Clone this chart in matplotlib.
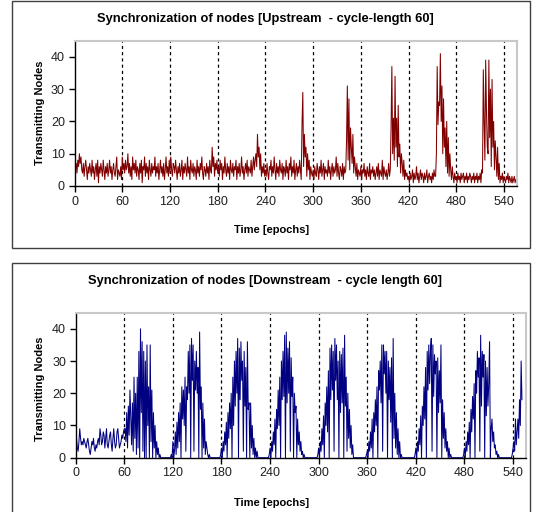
import matplotlib
matplotlib.use('Agg')
import matplotlib.pyplot as plt
from matplotlib.patches import Rectangle

# upstream: transmitting nodes per epoch (t = 0 .. 555)
upstream = [
    6, 5, 7, 4, 8, 6, 10, 7, 9, 5, 4, 7, 3, 6, 8, 5, 2, 6, 4, 7,
    5, 3, 8, 4, 6, 2, 5, 7, 3, 8, 1, 6, 4, 7, 5, 3, 8, 5, 2, 6,
    4, 7, 3, 5, 8, 4, 6, 2, 5, 7, 4, 3, 6, 9, 2, 5, 4, 3, 6, 2,
    9, 5, 7, 4, 8, 5, 6, 10, 4, 7, 3, 6, 2, 9, 5, 7, 4, 8, 3, 6,
    5, 2, 7, 4, 8, 1, 6, 5, 9, 3, 7, 4, 6, 2, 8, 5, 3, 7, 4, 6,
    5, 9, 3, 6, 4, 7, 2, 5, 8, 4, 6, 3, 7, 2, 5, 9, 4, 6, 3, 8,
    4, 9, 5, 3, 7, 6, 4, 8, 5, 2, 6, 4, 7, 3, 5, 8, 2, 6, 4, 7,
    5, 3, 9, 4, 6, 2, 8, 5, 4, 7, 3, 6, 5, 2, 8, 4, 6, 3, 7, 5,
    9, 4, 2, 6, 5, 3, 7, 4, 6, 2, 8, 5, 4, 12, 6, 9, 3, 7, 5, 8,
    4, 6, 3, 8, 5, 7, 2, 6, 4, 9, 5, 3, 7, 4, 6, 2, 8, 5, 4, 7,
    3, 6, 5, 8, 2, 6, 4, 7, 3, 5, 9, 4, 6, 2, 5, 7, 4, 8, 3, 6,
    5, 4, 8, 3, 6, 9, 5, 8, 10, 6, 16, 9, 12, 5, 10, 3, 6, 4, 7, 3,
    5, 3, 7, 4, 2, 6, 5, 8, 3, 6, 4, 9, 5, 2, 7, 4, 6, 3, 8, 5,
    4, 7, 2, 6, 5, 3, 8, 4, 6, 2, 7, 5, 9, 3, 6, 4, 8, 2, 5, 7,
    3, 6, 4, 8, 5, 2, 19, 29, 6, 16, 9, 12, 3, 10, 5, 8, 2, 6, 4, 3,
    5, 2, 6, 4, 3, 7, 5, 2, 6, 4, 8, 3, 5, 7, 2, 6, 4, 5, 3, 8,
    4, 6, 2, 5, 7, 3, 6, 4, 5, 9, 3, 7, 4, 2, 6, 5, 3, 7, 2, 6,
    4, 5, 14, 31, 8, 27, 5, 18, 12, 7, 16, 4, 9, 6, 3, 7, 2, 5, 4, 3,
    6, 2, 5, 4, 7, 3, 5, 2, 6, 4, 3, 7, 2, 5, 4, 6, 3, 5, 2, 4,
    6, 3, 7, 2, 5, 4, 3, 8, 2, 6, 4, 3, 5, 2, 4, 7, 3, 5, 18, 37,
    10, 21, 8, 34, 12, 21, 6, 25, 9, 13, 4, 10, 7, 3, 8, 2, 5, 3, 4, 2,
    3, 1, 4, 2, 3, 5, 1, 4, 2, 3, 6, 2, 4, 1, 3, 5, 2, 4, 3, 1,
    4, 2, 3, 5, 1, 3, 4, 2, 3, 1, 4, 2, 5, 3, 3, 10, 37, 19, 26, 25,
    41, 20, 31, 10, 27, 12, 18, 6, 20, 4, 15, 3, 10, 5, 2, 6, 3, 1, 4, 2,
    3, 1, 4, 2, 3, 1, 4, 2, 3, 4, 1, 3, 2, 4, 1, 3, 2, 4, 3, 1,
    3, 2, 4, 1, 3, 2, 4, 1, 3, 2, 4, 1, 5, 4, 36, 20, 8, 39, 23, 12,
    10, 39, 15, 30, 6, 33, 12, 20, 5, 14, 9, 3, 12, 2, 7, 1, 3, 2, 4, 1,
    3, 2, 1, 3, 2, 4, 1, 3, 2, 1, 3, 1, 2, 3, 1, 2,
]

# downstream: transmitting nodes per epoch (t = 0 .. 551)
downstream = [
    # 0-59
    9, 6, 3, 2, 5, 9, 6, 4, 5, 4, 6, 5, 4, 3, 5, 6, 4, 2, 1, 3,
    5, 4, 6, 3, 2, 4, 3, 5, 6, 4, 9, 7, 4, 5, 8, 7, 3, 6, 9, 4,
    3, 5, 7, 8, 4, 2, 6, 9, 5, 3, 4, 8, 9, 6, 3, 4, 5, 7, 6, 8,
    # 60-117
    9, 9, 5, 14, 3, 16, 7, 21, 12, 4, 17, 2, 25, 6, 20, 1, 25, 3, 33, 0,
    40, 14, 36, 2, 33, 0, 30, 0, 35, 10, 22, 0, 35, 5, 21, 0, 14, 3, 10, 0,
    5, 1, 3, 0, 1, 0, 0, 0, 0, 0, 0, 0, 0, 0, 0, 0, 0, 0,
    # 118-177
    1, 0, 5, 0, 2, 8, 1, 11, 3, 14, 5, 17, 0, 22, 12, 21, 10, 25, 2, 22,
    18, 33, 20, 35, 0, 37, 24, 35, 2, 30, 21, 33, 20, 28, 0, 39, 15, 22, 0, 17,
    3, 12, 1, 5, 3, 1, 0, 1, 0, 0, 0, 0, 0, 0, 0, 0, 0, 0, 0, 0,
    # 178-237
    0, 1, 3, 0, 5, 2, 8, 4, 11, 0, 14, 6, 17, 9, 20, 0, 25, 10, 30, 16,
    33, 20, 37, 0, 34, 18, 36, 24, 30, 2, 33, 16, 28, 0, 36, 15, 17, 0, 17, 3,
    10, 1, 6, 0, 3, 0, 2, 0, 0, 0, 0, 0, 0, 0, 0, 0, 0, 0, 0, 0,
    # 238-297
    0, 1, 3, 0, 5, 2, 8, 4, 12, 0, 15, 9, 21, 10, 25, 0, 30, 18, 33, 19,
    38, 0, 39, 17, 34, 20, 36, 2, 31, 19, 25, 0, 20, 14, 16, 0, 12, 4, 8, 2,
    5, 1, 2, 0, 1, 0, 0, 0, 0, 0, 0, 0, 0, 0, 0, 0, 0, 0, 0, 0,
    # 298-357
    0, 1, 3, 0, 5, 2, 9, 4, 13, 0, 17, 10, 22, 8, 27, 0, 34, 18, 35, 21,
    33, 2, 37, 24, 35, 18, 30, 0, 33, 14, 32, 17, 34, 0, 38, 16, 25, 2, 20, 6,
    15, 3, 10, 1, 4, 0, 0, 0, 0, 0, 0, 0, 0, 0, 0, 0, 0, 0, 0, 0,
    # 358-417
    0, 1, 2, 0, 5, 2, 8, 3, 12, 0, 14, 8, 18, 10, 22, 0, 27, 21, 30, 17,
    35, 2, 35, 26, 33, 20, 33, 0, 30, 18, 28, 11, 31, 0, 37, 6, 20, 3, 14, 1,
    9, 0, 5, 0, 1, 0, 0, 0, 0, 0, 0, 0, 0, 0, 0, 0, 0, 0, 0, 0,
    # 418-477
    0, 1, 3, 0, 5, 2, 9, 4, 13, 0, 16, 10, 22, 12, 28, 0, 33, 21, 35, 23,
    33, 37, 2, 35, 19, 32, 26, 30, 0, 31, 14, 27, 17, 35, 0, 18, 6, 14, 3, 9,
    2, 5, 0, 3, 0, 1, 0, 0, 0, 0, 0, 0, 0, 0, 0, 0, 0, 0, 0, 0,
    # 478-537
    0, 1, 3, 0, 5, 2, 8, 4, 11, 0, 15, 8, 19, 12, 23, 0, 27, 20, 33, 25,
    31, 2, 38, 16, 33, 25, 32, 0, 30, 13, 28, 16, 23, 36, 0, 9, 12, 5, 8, 3,
    4, 1, 2, 0, 1, 0, 0, 0, 0, 0, 0, 0, 0, 0, 0, 0, 0, 0, 0, 0,
    # 538-551
    0, 1, 3, 5, 2, 12, 4, 8, 12, 6, 18, 10, 30, 18,
]

x_ticks = [0, 60, 120, 180, 240, 300, 360, 420, 480, 540]
y_ticks = [0, 10, 20, 30, 40]
cycle_marks = [60, 120, 180, 240, 300, 360, 420, 480, 540]

plt.rcParams['font.family'] = ['Liberation Sans', 'DejaVu Sans']

W, H = 533, 512
fig = plt.figure(figsize=(W / 100, H / 100), dpi=100)

# framing boxes around each panel
fig.patches.append(Rectangle((12 / W, 1 - 248 / H), 518 / W, 247 / H,
                             transform=fig.transFigure, fill=False,
                             edgecolor='#404040', lw=1))
fig.patches.append(Rectangle((12 / W, -0.01), 518 / W, (1 - 263 / H) + 0.01,
                             transform=fig.transFigure, fill=False,
                             edgecolor='#404040', lw=1))


def panel(rect, data, color, title, title_y, xlab_y, ylab_y):
    ax = fig.add_axes(rect)
    ax.plot(range(len(data)), data, color=color, lw=0.75)
    for c in cycle_marks:
        ax.axvline(c, color='black', lw=0.9, ls=(0, (2.5, 2.5)), zorder=0)
    ax.set_xlim(0, 556)
    ax.set_ylim(0, 45)
    ax.set_xticks(x_ticks)
    ax.set_yticks(y_ticks)
    ax.tick_params(labelsize=9, length=4, width=1, color='black', pad=3,
                   labelcolor='#202020')
    for s in ['top', 'right']:
        ax.spines[s].set_color('#c8c8c8')
        ax.spines[s].set_linewidth(1.5)
    for s in ['left', 'bottom']:
        ax.spines[s].set_color('black')
        ax.spines[s].set_linewidth(1)
    fig.text(265 / W, 1 - title_y / H, title, ha='center', va='center',
             fontsize=9.3, fontweight='bold')
    fig.text(272 / W, 1 - xlab_y / H, 'Time [epochs]', ha='center', va='center',
             fontsize=8, fontweight='bold')
    fig.text(40 / W, 1 - ylab_y / H, 'Transmitting Nodes', ha='center', va='center',
             rotation=90, fontsize=8, fontweight='bold')
    return ax


panel([74.6 / W, 1 - 186 / H, (516.7 - 74.6) / W, (186 - 40.7) / H],
      upstream, '#800000',
      'Synchronization of nodes [Upstream  - cycle-length 60]', 19, 230, 113)
panel([75.7 / W, 1 - 457.7 / H, (526 - 75.7) / W, (457.7 - 312.7) / H],
      downstream, '#000080',
      'Synchronization of nodes [Downstream  - cycle length 60]', 281, 503, 389)

fig.savefig('out.png', dpi=100)
